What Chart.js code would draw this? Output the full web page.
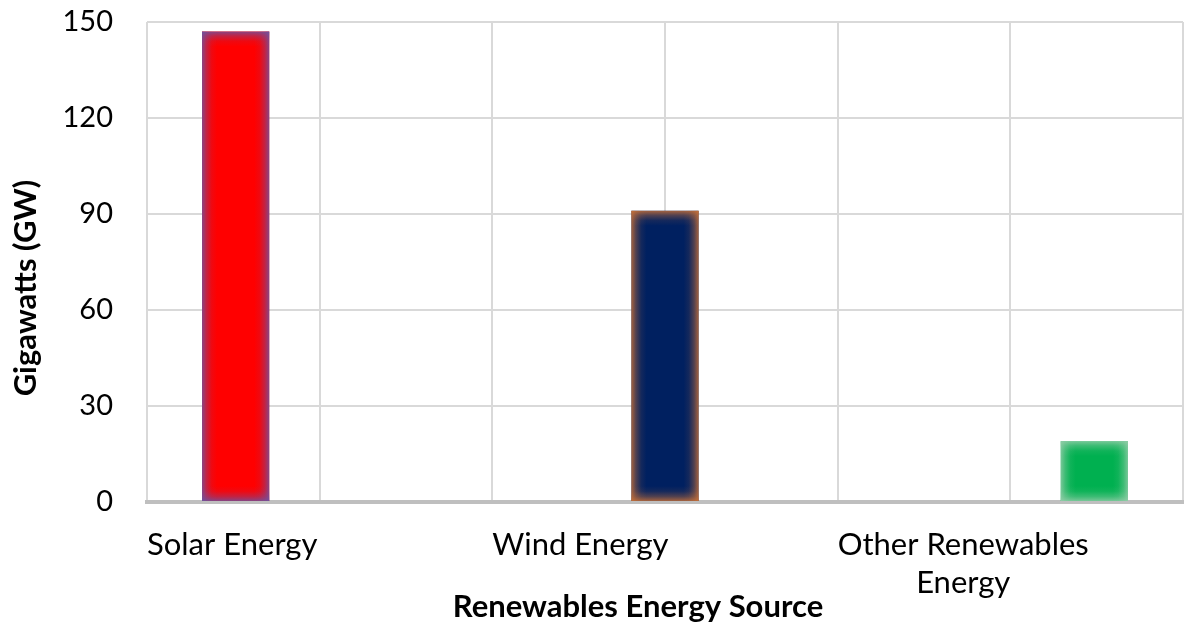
<!DOCTYPE html>
<html>
<head>
<meta charset="utf-8">
<script src="https://cdn.jsdelivr.net/npm/chart.js@4.4.0/dist/chart.umd.min.js"></script>
<style>
  html, body { margin: 0; padding: 0; background: #ffffff; }
  #wrap { width: 1199px; height: 630px; }
</style>
</head>
<body>
<div id="wrap"><canvas id="chart" width="1199" height="630"></canvas></div>
<script>
// chart data
const categories = ["Solar Energy", "Wind Energy", ["Other Renewables", "Energy"]];
const capacityGW = [147, 91, 19];
const barColors = ["#FF0000", "#002060", "#00B050"];
const glowColors = [[105, 85, 165], [205, 115, 55], [150, 205, 170]];
const yMin = 0, yMax = 150, yStep = 30;
const xTitle = "Renewables Energy Source";
const yTitle = "Gigawatts (GW)";
// vertical gridlines fall on category edges and centres
const halfSteps = ["", "", "", "", "", "", ""];

const FONT = "Lato, 'Open Sans', sans-serif";
const TICK_SIZE = 31;
const TICK_LINE = 38;
const TICK_PAD = 24;
const TITLE_SIZE = 31;

// one dataset per source, so each bar keeps its own slot in the group
const datasets = capacityGW.map(function (v, i) {
  return {
    label: Array.isArray(categories[i]) ? categories[i].join(" ") : categories[i],
    data: categories.map(function (c, j) { return j === i ? v : null; }),
    backgroundColor: barColors[i],
    borderWidth: 0,
    barPercentage: 0.8,
    categoryPercentage: 0.73
  };
});

function rgba(c, a) { return "rgba(" + c[0] + "," + c[1] + "," + c[2] + "," + a + ")"; }

// soft inner glow on bar edges
const barGlow = {
  id: "barGlow",
  afterDatasetsDraw(chart) {
    const ctx = chart.ctx;
    chart.data.datasets.forEach(function (ds, d) {
      chart.getDatasetMeta(d).data.forEach(function (el, i) {
        if (ds.data[i] == null) return;
        const p = el.getProps(["x", "y", "base", "width"], true);
        const l = p.x - p.width / 2, r = p.x + p.width / 2;
        const t = Math.min(p.y, p.base), b = Math.max(p.y, p.base);
        const g = Math.min(15, p.width / 4, (b - t) / 3);
        const c = glowColors[d];
        function grad(x0, y0, x1, y1) {
          const gr = ctx.createLinearGradient(x0, y0, x1, y1);
          gr.addColorStop(0, rgba(c, 0.8));
          gr.addColorStop(0.3, rgba(c, 0.4));
          gr.addColorStop(0.65, rgba(c, 0.1));
          gr.addColorStop(1, rgba(c, 0));
          return gr;
        }
        ctx.save();
        ctx.fillStyle = grad(l, 0, l + g, 0); ctx.fillRect(l, t, g, b - t);
        ctx.fillStyle = grad(r, 0, r - g, 0); ctx.fillRect(r - g, t, g, b - t);
        ctx.fillStyle = grad(0, t, 0, t + g); ctx.fillRect(l, t, r - l, g);
        ctx.fillStyle = grad(0, b, 0, b - g); ctx.fillRect(l, b - g, r - l, g);
        ctx.restore();
      });
    });
  }
};

// category labels sit at the left edge of each category, lines centred on each other;
// axis titles sit a little off-centre, as in the original
const axisText = {
  id: "axisText",
  afterDraw(chart) {
    const xs = chart.scales.x;
    const ys = chart.scales.y;
    const ctx = chart.ctx;
    const n = categories.length;
    const cw = xs.width / n;
    ctx.save();
    ctx.font = TICK_SIZE + "px " + FONT;
    ctx.fillStyle = "#000000";
    ctx.textAlign = "center";
    ctx.textBaseline = "middle";
    categories.forEach(function (c, i) {
      const lines = Array.isArray(c) ? c : [c];
      const w = Math.max.apply(null, lines.map(function (s) { return ctx.measureText(s).width; }));
      const cx = xs.getPixelForValue(i) - cw / 2 + w / 2;
      lines.forEach(function (s, j) {
        ctx.fillText(s, cx, xs.top + TICK_PAD + TICK_LINE * (j + 0.5));
      });
    });

    const lh = TITLE_SIZE * 1.2;
    ctx.font = "bold " + TITLE_SIZE + "px " + FONT;
    ctx.fillText(xTitle, (xs.left + xs.right) / 2 - 27, xs.bottom - 4 - lh / 2);
    ctx.translate(ys.left + 7 + lh / 2, (ys.top + ys.bottom) / 2 + 26);
    ctx.rotate(-Math.PI / 2);
    ctx.fillText(yTitle, 0, 0);
    ctx.restore();
  }
};

new Chart(document.getElementById("chart"), {
  type: "bar",
  data: { labels: categories, datasets: datasets },
  options: {
    responsive: false,
    animation: false,
    devicePixelRatio: 1,
    layout: { padding: { top: 22, right: 16, bottom: 0, left: 0 } },
    plugins: {
      legend: { display: false },
      tooltip: { enabled: false }
    },
    scales: {
      x: {
        position: "bottom",
        z: 1,
        grid: { display: false },
        border: { display: true, color: "#BFBFBF", width: 4 },
        ticks: {
          color: "rgba(0,0,0,0)",
          font: { family: FONT, size: TICK_SIZE, lineHeight: TICK_LINE / TICK_SIZE },
          padding: TICK_PAD,
          maxRotation: 0,
          autoSkip: false
        },
        title: { display: false, text: xTitle },
        afterFit(scale) { scale.height = 128; }
      },
      x2: {
        type: "category",
        labels: halfSteps,
        position: "top",
        offset: false,
        ticks: { display: false },
        grid: { color: "#D9D9D9", lineWidth: 2, drawTicks: false, offset: false },
        border: { display: false },
        afterFit(scale) { scale.height = 0; }
      },
      y: {
        min: yMin,
        max: yMax,
        ticks: {
          stepSize: yStep,
          color: "#000000",
          padding: 34,
          font: { family: FONT, size: 29 }
        },
        grid: { color: "#D9D9D9", lineWidth: 2, drawTicks: false },
        border: { display: false },
        title: { display: false, text: yTitle },
        afterFit(scale) {
          scale.width = 147;
          scale.paddingTop = 0;
          scale.paddingBottom = 0;
        }
      }
    }
  },
  plugins: [barGlow, axisText]
});
</script>
</body>
</html>
